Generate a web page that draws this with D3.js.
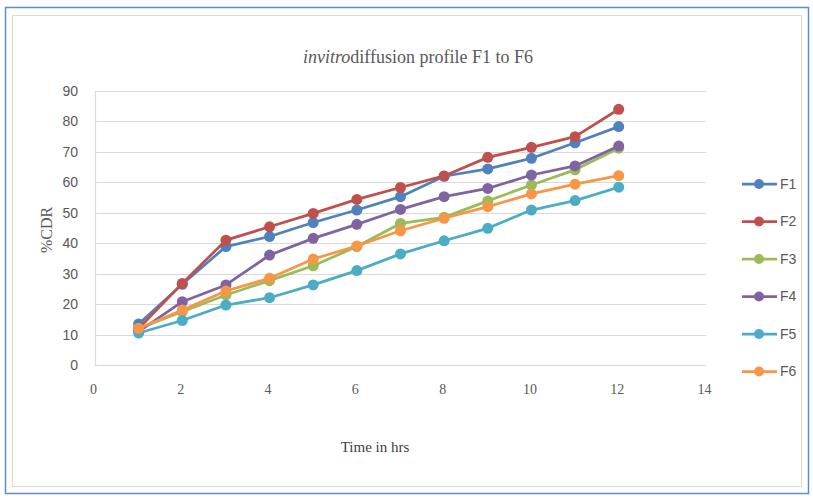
<!DOCTYPE html>
<html>
<head>
<meta charset="utf-8">
<script src="https://cdn.jsdelivr.net/npm/d3@7"></script>
<style>
  html, body { margin: 0; padding: 0; background: #fff; }
  svg { display: block; }
</style>
</head>
<body>
<svg id="chart" width="813" height="500"></svg>
<script>
// Sampling times (hours)
const hours = [1, 2, 3, 4, 5, 6, 7, 8, 9, 10, 11, 12];

// Cumulative drug release (%CDR) per formulation
const F1 = [13.5, 26.5, 38.9, 42.2, 46.8, 50.9, 55.3, 62.0, 64.4, 67.9, 73.0, 78.3];
const F2 = [12.0, 26.8, 41.0, 45.4, 49.8, 54.4, 58.3, 62.1, 68.2, 71.5, 75.0, 84.0];
const F3 = [12.0, 17.5, 23.0, 27.7, 32.6, 38.9, 46.5, 48.5, 53.9, 59.1, 64.1, 71.2];
const F4 = [11.0, 20.8, 26.3, 36.1, 41.6, 46.2, 51.1, 55.3, 58.0, 62.4, 65.4, 71.9];
const F5 = [10.5, 14.6, 19.7, 22.1, 26.3, 31.0, 36.5, 40.8, 44.9, 50.9, 54.0, 58.4];
const F6 = [12.0, 18.1, 24.3, 28.5, 34.8, 39.1, 44.1, 48.2, 52.0, 56.2, 59.4, 62.2];

const seriesNames = ["F1", "F2", "F3", "F4", "F5", "F6"];
const seriesValues = [F1, F2, F3, F4, F5, F6];
const seriesColors = ["#4F81BD", "#C0504D", "#9BBB59", "#8064A2", "#4BACC6", "#F79646"];

const xTicks = [0, 2, 4, 6, 8, 10, 12, 14];
const yTicks = [0, 10, 20, 30, 40, 50, 60, 70, 80, 90];

const svg = d3.select("#chart");

// Frame: outer blue rule and inner chart-area border
svg.append("rect")
  .attr("x", 5.5).attr("y", 7.5).attr("width", 803).attr("height", 486)
  .attr("fill", "none").attr("stroke", "#5B8ED0").attr("stroke-width", 1.5);
svg.append("rect")
  .attr("x", 12.5).attr("y", 15.5).attr("width", 789).attr("height", 471)
  .attr("fill", "none").attr("stroke", "#D9D9D9").attr("stroke-width", 1);

const x = d3.scaleLinear().domain([0, 14]).range([95, 706]);
const y = d3.scaleLinear().domain([0, 90]).range([365, 91]);

// Horizontal gridlines
svg.append("g")
  .selectAll("line")
  .data(yTicks.filter(d => d > 0))
  .join("line")
  .attr("x1", x(0)).attr("x2", x(14))
  .attr("y1", d => Math.round(y(d)) + 0.5).attr("y2", d => Math.round(y(d)) + 0.5)
  .attr("stroke", "#D9D9D9").attr("stroke-width", 1.2);

// Axis lines
svg.append("line")
  .attr("x1", Math.round(x(0)) + 0.5).attr("x2", Math.round(x(0)) + 0.5)
  .attr("y1", y(90)).attr("y2", y(0))
  .attr("stroke", "#D9D9D9").attr("stroke-width", 1.2);
svg.append("line")
  .attr("x1", x(0)).attr("x2", x(14))
  .attr("y1", Math.round(y(0)) + 0.5).attr("y2", Math.round(y(0)) + 0.5)
  .attr("stroke", "#D9D9D9").attr("stroke-width", 1.2);

// Y axis labels
const yAxis = d3.axisLeft(y).tickValues(yTicks).tickSize(0).tickPadding(0);
svg.append("g")
  .attr("transform", "translate(78,0)")
  .call(yAxis)
  .call(g => g.select(".domain").remove())
  .call(g => g.selectAll("text")
    .attr("fill", "#595959")
    .style("font-family", "'Liberation Sans Narrow', 'Liberation Sans', Arial, sans-serif")
    .style("font-size", "14px"));

// X axis labels
const xAxis = d3.axisBottom(x).tickValues(xTicks).tickSize(0).tickPadding(0);
svg.append("g")
  .attr("transform", "translate(-2,384)")
  .call(xAxis)
  .call(g => g.select(".domain").remove())
  .call(g => g.selectAll("text")
    .attr("fill", "#595959")
    .style("font-family", "'Liberation Serif', 'Times New Roman', serif")
    .style("font-size", "14px"));

// Axis titles
svg.append("text")
  .attr("transform", "translate(52,230) rotate(-90)")
  .attr("text-anchor", "middle")
  .attr("fill", "#595959")
  .style("font-family", "'Liberation Serif', 'Times New Roman', serif")
  .style("font-size", "16px")
  .text("%CDR");

svg.append("text")
  .attr("x", 375).attr("y", 452)
  .attr("text-anchor", "middle")
  .attr("fill", "#404040")
  .style("font-family", "'Liberation Serif', 'Times New Roman', serif")
  .style("font-size", "15px")
  .text("Time in hrs");

// Title
const title = svg.append("text")
  .attr("x", 418).attr("y", 63)
  .attr("text-anchor", "middle")
  .attr("fill", "#595959")
  .style("font-family", "'Liberation Serif', 'Times New Roman', serif")
  .style("font-size", "18px");
title.append("tspan").style("font-style", "italic").text("invitro");
title.append("tspan").text("diffusion profile F1 to F6");

// Series lines and markers
const line = d3.line()
  .x((d, i) => x(hours[i]))
  .y(d => y(d));

seriesValues.forEach((vals, s) => {
  const g = svg.append("g");
  g.append("path")
    .datum(vals)
    .attr("d", line)
    .attr("fill", "none")
    .attr("stroke", seriesColors[s])
    .attr("stroke-width", 2.75)
    .attr("stroke-linejoin", "round");
  g.selectAll("circle")
    .data(vals)
    .join("circle")
    .attr("cx", (d, i) => x(hours[i]))
    .attr("cy", d => y(d))
    .attr("r", 5.5)
    .attr("fill", seriesColors[s]);
});

// Legend
const legend = svg.append("g");
seriesNames.forEach((name, s) => {
  const ly = 184 + s * 37.5;
  legend.append("line")
    .attr("x1", 742).attr("x2", 777)
    .attr("y1", ly).attr("y2", ly)
    .attr("stroke", seriesColors[s]).attr("stroke-width", 2.75);
  legend.append("circle")
    .attr("cx", 759).attr("cy", ly).attr("r", 5)
    .attr("fill", seriesColors[s]);
  legend.append("text")
    .attr("x", 780).attr("y", ly)
    .attr("dy", "0.35em")
    .attr("fill", "#595959")
    .style("font-family", "'Liberation Sans Narrow', 'Liberation Sans', Arial, sans-serif")
    .style("font-size", "14px")
    .text(name);
});
</script>
</body>
</html>
